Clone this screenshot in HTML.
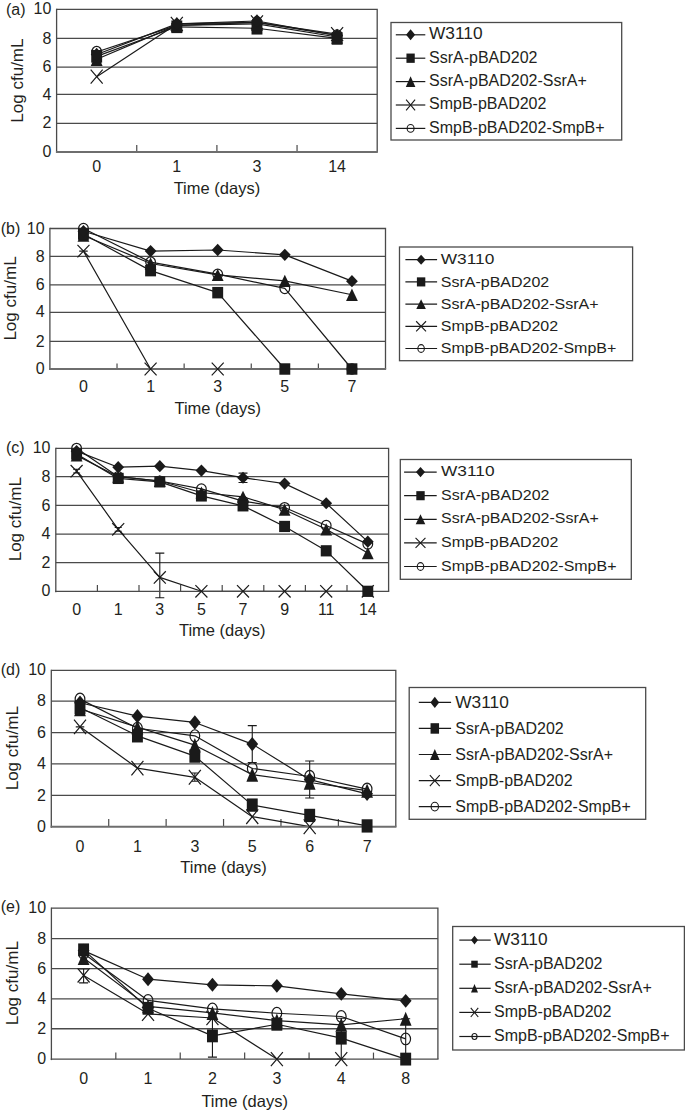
<!DOCTYPE html>
<html><head><meta charset="utf-8"><title>Figure</title>
<style>
html,body{margin:0;padding:0;background:#fff;}
body{width:685px;height:1112px;overflow:hidden;}
svg{display:block;}
text{font-family:"Liberation Sans", sans-serif;font-size:16px;fill:#231f20;}
</style></head>
<body>
<svg width="685" height="1112" viewBox="0 0 685 1112">
<rect width="685" height="1112" fill="#fff"/>
<g>
<line x1="56.6" y1="123.38" x2="377.2" y2="123.38" stroke="#4a4a4a" stroke-width="1.3"/>
<line x1="56.6" y1="94.43" x2="377.2" y2="94.43" stroke="#4a4a4a" stroke-width="1.3"/>
<line x1="56.6" y1="67.1" x2="377.2" y2="67.1" stroke="#4a4a4a" stroke-width="1.3"/>
<line x1="56.6" y1="38.42" x2="377.2" y2="38.42" stroke="#4a4a4a" stroke-width="1.3"/>
<path d="M56.6 9.35L377.2 9.35L377.2 151.9" stroke="#4a4a4a" stroke-width="1.3" fill="none"/>
<line x1="56.6" y1="8.7" x2="56.6" y2="152.9" stroke="#4a4a4a" stroke-width="1.3"/>
<line x1="136.75" y1="145.1" x2="136.75" y2="151.9" stroke="#4a4a4a" stroke-width="1.2"/>
<line x1="216.9" y1="145.1" x2="216.9" y2="151.9" stroke="#4a4a4a" stroke-width="1.2"/>
<line x1="297.05" y1="145.1" x2="297.05" y2="151.9" stroke="#4a4a4a" stroke-width="1.2"/>
<text x="51.3" y="157" text-anchor="end">0</text>
<text x="51.3" y="128.48" text-anchor="end">2</text>
<text x="51.3" y="99.53" text-anchor="end">4</text>
<text x="51.3" y="72.2" text-anchor="end">6</text>
<text x="51.3" y="43.52" text-anchor="end">8</text>
<text x="51.3" y="14.45" text-anchor="end">10</text>
<text x="96.67" y="171.5" text-anchor="middle">0</text>
<text x="176.82" y="171.5" text-anchor="middle">1</text>
<text x="256.97" y="171.5" text-anchor="middle">3</text>
<text x="337.12" y="171.5" text-anchor="middle">14</text>
<text x="216.9" y="194.4" text-anchor="middle" style="font-size:16.5px">Time (days)</text>
<text transform="translate(23 80.6) rotate(-90) scale(1.065 1)" text-anchor="middle">Log cfu/mL</text>
<text x="6" y="14.7">(a)</text>
<path d="M96.67 54.48L176.82 23.89L256.97 20.98L337.12 35.51" stroke="#1a1a1a" stroke-width="1.2" fill="none" stroke-linejoin="round"/>
<path d="M96.67 56.34L176.82 26.79L256.97 28.25L337.12 38.42" stroke="#1a1a1a" stroke-width="1.2" fill="none" stroke-linejoin="round"/>
<path d="M96.67 59.21L176.82 25.34L256.97 23.89L337.12 36.97" stroke="#1a1a1a" stroke-width="1.2" fill="none" stroke-linejoin="round"/>
<path d="M96.67 76.67L176.82 23.89L256.97 22.43L337.12 34.06" stroke="#1a1a1a" stroke-width="1.2" fill="none" stroke-linejoin="round"/>
<path d="M96.67 52.04L176.82 25.34L256.97 22.43L337.12 35.51" stroke="#1a1a1a" stroke-width="1.2" fill="none" stroke-linejoin="round"/>
<line x1="55.95" y1="151.9" x2="377.85" y2="151.9" stroke="#6e6e6e" stroke-width="2"/>
<ellipse cx="96.67" cy="52.04" rx="4.85" ry="5.72" fill="none" stroke="#1a1a1a" stroke-width="1.2"/>
<ellipse cx="176.82" cy="25.34" rx="4.85" ry="5.72" fill="none" stroke="#1a1a1a" stroke-width="1.2"/>
<ellipse cx="256.97" cy="22.43" rx="4.85" ry="5.72" fill="none" stroke="#1a1a1a" stroke-width="1.2"/>
<ellipse cx="337.12" cy="35.51" rx="4.85" ry="5.72" fill="none" stroke="#1a1a1a" stroke-width="1.2"/>
<path d="M90.67 69.71L102.67 83.63M102.67 69.71L90.67 83.63" stroke="#1a1a1a" stroke-width="1.2" fill="none"/>
<path d="M170.82 16.93L182.82 30.84M182.82 16.93L170.82 30.84" stroke="#1a1a1a" stroke-width="1.2" fill="none"/>
<path d="M250.97 15.47L262.97 29.39M262.97 15.47L250.97 29.39" stroke="#1a1a1a" stroke-width="1.2" fill="none"/>
<path d="M331.12 27.1L343.12 41.02M343.12 27.1L331.12 41.02" stroke="#1a1a1a" stroke-width="1.2" fill="none"/>
<path d="M96.67 52.37L102.58 66.06L90.77 66.06Z" fill="#1a1a1a"/>
<path d="M176.82 18.49L182.72 32.18L170.92 32.18Z" fill="#1a1a1a"/>
<path d="M256.97 17.04L262.87 30.73L251.07 30.73Z" fill="#1a1a1a"/>
<path d="M337.12 30.12L343.02 43.81L331.23 43.81Z" fill="#1a1a1a"/>
<rect x="91.22" y="50.02" width="10.9" height="12.64" fill="#1a1a1a"/>
<rect x="171.38" y="20.47" width="10.9" height="12.64" fill="#1a1a1a"/>
<rect x="251.52" y="21.92" width="10.9" height="12.64" fill="#1a1a1a"/>
<rect x="331.68" y="32.1" width="10.9" height="12.64" fill="#1a1a1a"/>
<path d="M96.67 47.64L102.58 54.48L96.67 61.32L90.77 54.48Z" fill="#1a1a1a"/>
<path d="M176.82 17.04L182.72 23.89L176.82 30.73L170.92 23.89Z" fill="#1a1a1a"/>
<path d="M256.97 14.13L262.87 20.98L256.97 27.82L251.07 20.98Z" fill="#1a1a1a"/>
<path d="M337.12 28.67L343.02 35.51L337.12 42.36L331.23 35.51Z" fill="#1a1a1a"/>
<rect x="391" y="22.5" width="230.7" height="117.5" fill="#fff" stroke="#4a4a4a" stroke-width="1.3"/>
<line x1="395.8" y1="34.8" x2="425.3" y2="34.8" stroke="#1a1a1a" stroke-width="1.2"/>
<path d="M410.6 29.35L415.15 34.8L410.6 40.25L406.05 34.8Z" fill="#1a1a1a"/>
<text transform="translate(429 39.2) scale(1 1)" textLength="53.5" lengthAdjust="spacingAndGlyphs">W3110</text>
<line x1="395.8" y1="58.2" x2="425.3" y2="58.2" stroke="#1a1a1a" stroke-width="1.2"/>
<rect x="406.45" y="53.55" width="8.3" height="9.3" fill="#1a1a1a"/>
<text transform="translate(429 62.6) scale(1 1)">SsrA-pBAD202</text>
<line x1="395.8" y1="81.6" x2="425.3" y2="81.6" stroke="#1a1a1a" stroke-width="1.2"/>
<path d="M410.6 76.15L415.4 87.05L405.8 87.05Z" fill="#1a1a1a"/>
<text transform="translate(429 86) scale(1 1)">SsrA-pBAD202-SsrA+</text>
<line x1="395.8" y1="105" x2="425.3" y2="105" stroke="#1a1a1a" stroke-width="1.2"/>
<path d="M406.1 99.55L415.1 110.45M415.1 99.55L406.1 110.45" stroke="#1a1a1a" stroke-width="1.1" fill="none"/>
<text transform="translate(429 109.4) scale(1 1)">SmpB-pBAD202</text>
<line x1="395.8" y1="128.4" x2="425.3" y2="128.4" stroke="#1a1a1a" stroke-width="1.2"/>
<ellipse cx="410.6" cy="128.4" rx="3.45" ry="3.85" fill="none" stroke="#1a1a1a" stroke-width="1.1"/>
<text transform="translate(429 132.8) scale(1 1)">SmpB-pBAD202-SmpB+</text>
</g>
<g>
<line x1="49.9" y1="341.4" x2="385.5" y2="341.4" stroke="#4a4a4a" stroke-width="1.3"/>
<line x1="49.9" y1="312.3" x2="385.5" y2="312.3" stroke="#4a4a4a" stroke-width="1.3"/>
<line x1="49.9" y1="284.85" x2="385.5" y2="284.85" stroke="#4a4a4a" stroke-width="1.3"/>
<line x1="49.9" y1="256.4" x2="385.5" y2="256.4" stroke="#4a4a4a" stroke-width="1.3"/>
<path d="M49.9 228.5L385.5 228.5L385.5 369" stroke="#4a4a4a" stroke-width="1.3" fill="none"/>
<line x1="49.9" y1="227.85" x2="49.9" y2="370" stroke="#4a4a4a" stroke-width="1.3"/>
<line x1="117.02" y1="363.4" x2="117.02" y2="369" stroke="#4a4a4a" stroke-width="1.2"/>
<line x1="184.14" y1="363.4" x2="184.14" y2="369" stroke="#4a4a4a" stroke-width="1.2"/>
<line x1="251.26" y1="363.4" x2="251.26" y2="369" stroke="#4a4a4a" stroke-width="1.2"/>
<line x1="318.38" y1="363.4" x2="318.38" y2="369" stroke="#4a4a4a" stroke-width="1.2"/>
<text x="44.6" y="374.1" text-anchor="end">0</text>
<text x="44.6" y="346.5" text-anchor="end">2</text>
<text x="44.6" y="317.4" text-anchor="end">4</text>
<text x="44.6" y="289.95" text-anchor="end">6</text>
<text x="44.6" y="261.5" text-anchor="end">8</text>
<text x="44.6" y="233.6" text-anchor="end">10</text>
<text x="83.46" y="391.5" text-anchor="middle">0</text>
<text x="150.58" y="391.5" text-anchor="middle">1</text>
<text x="217.7" y="391.5" text-anchor="middle">3</text>
<text x="284.82" y="391.5" text-anchor="middle">5</text>
<text x="351.94" y="391.5" text-anchor="middle">7</text>
<text x="217.7" y="413.9" text-anchor="middle" style="font-size:16.5px">Time (days)</text>
<text transform="translate(16.3 298.5) rotate(-90) scale(1.065 1)" text-anchor="middle">Log cfu/mL</text>
<text x="0.7" y="233.5">(b)</text>
<path d="M83.46 251.1L83.46 251.1M79.21 251.1L87.71 251.1M79.21 251.1L87.71 251.1" stroke="#1a1a1a" stroke-width="1.1" fill="none"/>
<path d="M83.46 231.29L150.58 251.1L217.7 249.98L284.82 254.87L351.94 281.15" stroke="#1a1a1a" stroke-width="1.2" fill="none" stroke-linejoin="round"/>
<path d="M83.46 234.08L150.58 270.62L217.7 292.67L284.82 369L351.94 369" stroke="#1a1a1a" stroke-width="1.2" fill="none" stroke-linejoin="round"/>
<path d="M83.46 235.47L150.58 263.51L217.7 274.89L284.82 280.87L351.94 294.73" stroke="#1a1a1a" stroke-width="1.2" fill="none" stroke-linejoin="round"/>
<path d="M83.46 251.1L150.58 369L217.7 369" stroke="#1a1a1a" stroke-width="1.2" fill="none" stroke-linejoin="round"/>
<path d="M83.46 228.5L150.58 262.09L217.7 274.18L284.82 288.42L351.94 369" stroke="#1a1a1a" stroke-width="1.2" fill="none" stroke-linejoin="round"/>
<line x1="49.25" y1="369" x2="386.15" y2="369" stroke="#6e6e6e" stroke-width="2"/>
<ellipse cx="83.46" cy="228.5" rx="4.85" ry="5.12" fill="none" stroke="#1a1a1a" stroke-width="1.2"/>
<ellipse cx="150.58" cy="262.09" rx="4.85" ry="5.12" fill="none" stroke="#1a1a1a" stroke-width="1.2"/>
<ellipse cx="217.7" cy="274.18" rx="4.85" ry="5.12" fill="none" stroke="#1a1a1a" stroke-width="1.2"/>
<ellipse cx="284.82" cy="288.42" rx="4.85" ry="5.12" fill="none" stroke="#1a1a1a" stroke-width="1.2"/>
<ellipse cx="351.94" cy="369" rx="4.85" ry="5.12" fill="none" stroke="#1a1a1a" stroke-width="1.2"/>
<path d="M77.46 244.8L89.46 257.4M89.46 244.8L77.46 257.4" stroke="#1a1a1a" stroke-width="1.2" fill="none"/>
<path d="M144.58 362.7L156.58 375.3M156.58 362.7L144.58 375.3" stroke="#1a1a1a" stroke-width="1.2" fill="none"/>
<path d="M211.7 362.7L223.7 375.3M223.7 362.7L211.7 375.3" stroke="#1a1a1a" stroke-width="1.2" fill="none"/>
<path d="M83.46 229.28L89.36 241.67L77.56 241.67Z" fill="#1a1a1a"/>
<path d="M150.58 257.32L156.48 269.71L144.68 269.71Z" fill="#1a1a1a"/>
<path d="M217.7 268.7L223.6 281.09L211.8 281.09Z" fill="#1a1a1a"/>
<path d="M284.82 274.67L290.72 287.06L278.92 287.06Z" fill="#1a1a1a"/>
<path d="M351.94 288.54L357.84 300.93L346.04 300.93Z" fill="#1a1a1a"/>
<rect x="78.01" y="228.36" width="10.9" height="11.45" fill="#1a1a1a"/>
<rect x="145.13" y="264.9" width="10.9" height="11.45" fill="#1a1a1a"/>
<rect x="212.25" y="286.95" width="10.9" height="11.45" fill="#1a1a1a"/>
<rect x="279.37" y="363.28" width="10.9" height="11.45" fill="#1a1a1a"/>
<rect x="346.49" y="363.28" width="10.9" height="11.45" fill="#1a1a1a"/>
<path d="M83.46 225.09L89.36 231.29L83.46 237.48L77.56 231.29Z" fill="#1a1a1a"/>
<path d="M150.58 244.9L156.48 251.1L150.58 257.29L144.68 251.1Z" fill="#1a1a1a"/>
<path d="M217.7 243.79L223.6 249.98L217.7 256.18L211.8 249.98Z" fill="#1a1a1a"/>
<path d="M284.82 248.67L290.72 254.87L284.82 261.06L278.92 254.87Z" fill="#1a1a1a"/>
<path d="M351.94 274.96L357.84 281.15L351.94 287.35L346.04 281.15Z" fill="#1a1a1a"/>
<rect x="399.5" y="247" width="233.1" height="113.7" fill="#fff" stroke="#4a4a4a" stroke-width="1.3"/>
<line x1="405.4" y1="259.7" x2="437.1" y2="259.7" stroke="#1a1a1a" stroke-width="1.2"/>
<path d="M421.1 254.65L425.65 259.7L421.1 264.75L416.55 259.7Z" fill="#1a1a1a"/>
<text transform="translate(440.8 264.3) scale(1 0.93)" textLength="53.5" lengthAdjust="spacingAndGlyphs">W3110</text>
<line x1="405.4" y1="281.9" x2="437.1" y2="281.9" stroke="#1a1a1a" stroke-width="1.2"/>
<rect x="416.9" y="277.35" width="8.4" height="9.1" fill="#1a1a1a"/>
<text transform="translate(440.8 286.5) scale(1 0.93)">SsrA-pBAD202</text>
<line x1="405.4" y1="304.1" x2="437.1" y2="304.1" stroke="#1a1a1a" stroke-width="1.2"/>
<path d="M421.1 299.15L425.9 309.05L416.3 309.05Z" fill="#1a1a1a"/>
<text transform="translate(440.8 308.7) scale(1 0.93)">SsrA-pBAD202-SsrA+</text>
<line x1="405.4" y1="326.3" x2="437.1" y2="326.3" stroke="#1a1a1a" stroke-width="1.2"/>
<path d="M416.15 321.25L426.05 331.35M426.05 321.25L416.15 331.35" stroke="#1a1a1a" stroke-width="1.1" fill="none"/>
<text transform="translate(440.8 330.9) scale(1 0.93)">SmpB-pBAD202</text>
<line x1="405.4" y1="348.5" x2="437.1" y2="348.5" stroke="#1a1a1a" stroke-width="1.2"/>
<ellipse cx="421.1" cy="348.5" rx="3.25" ry="3.9" fill="none" stroke="#1a1a1a" stroke-width="1.1"/>
<text transform="translate(440.8 353.1) scale(1 0.93)">SmpB-pBAD202-SmpB+</text>
</g>
<g>
<line x1="55.8" y1="562.7" x2="388.6" y2="562.7" stroke="#4a4a4a" stroke-width="1.3"/>
<line x1="55.8" y1="534.05" x2="388.6" y2="534.05" stroke="#4a4a4a" stroke-width="1.3"/>
<line x1="55.8" y1="505.4" x2="388.6" y2="505.4" stroke="#4a4a4a" stroke-width="1.3"/>
<line x1="55.8" y1="476.7" x2="388.6" y2="476.7" stroke="#4a4a4a" stroke-width="1.3"/>
<path d="M55.8 448.3L388.6 448.3L388.6 591.3" stroke="#4a4a4a" stroke-width="1.3" fill="none"/>
<line x1="55.8" y1="447.65" x2="55.8" y2="592.3" stroke="#4a4a4a" stroke-width="1.3"/>
<line x1="97.4" y1="585" x2="97.4" y2="591.3" stroke="#4a4a4a" stroke-width="1.2"/>
<line x1="139" y1="585" x2="139" y2="591.3" stroke="#4a4a4a" stroke-width="1.2"/>
<line x1="180.6" y1="585" x2="180.6" y2="591.3" stroke="#4a4a4a" stroke-width="1.2"/>
<line x1="222.2" y1="585" x2="222.2" y2="591.3" stroke="#4a4a4a" stroke-width="1.2"/>
<line x1="263.8" y1="585" x2="263.8" y2="591.3" stroke="#4a4a4a" stroke-width="1.2"/>
<line x1="305.4" y1="585" x2="305.4" y2="591.3" stroke="#4a4a4a" stroke-width="1.2"/>
<line x1="347" y1="585" x2="347" y2="591.3" stroke="#4a4a4a" stroke-width="1.2"/>
<text x="50.5" y="596.4" text-anchor="end">0</text>
<text x="50.5" y="567.8" text-anchor="end">2</text>
<text x="50.5" y="539.15" text-anchor="end">4</text>
<text x="50.5" y="510.5" text-anchor="end">6</text>
<text x="50.5" y="481.8" text-anchor="end">8</text>
<text x="50.5" y="453.4" text-anchor="end">10</text>
<text x="76.6" y="614.8" text-anchor="middle">0</text>
<text x="118.2" y="614.8" text-anchor="middle">1</text>
<text x="159.8" y="614.8" text-anchor="middle">3</text>
<text x="201.4" y="614.8" text-anchor="middle">5</text>
<text x="243" y="614.8" text-anchor="middle">7</text>
<text x="284.6" y="614.8" text-anchor="middle">9</text>
<text x="326.2" y="614.8" text-anchor="middle">11</text>
<text x="367.8" y="614.8" text-anchor="middle">14</text>
<text x="222.2" y="636.2" text-anchor="middle" style="font-size:16.5px">Time (days)</text>
<text transform="translate(21.3 519.2) rotate(-90) scale(1.065 1)" text-anchor="middle">Log cfu/mL</text>
<text x="5.9" y="453.4">(c)</text>
<path d="M159.8 553.1L159.8 597.73M155.3 553.1L164.3 553.1M155.3 597.73L164.3 597.73" stroke="#1a1a1a" stroke-width="1.1" fill="none"/>
<path d="M243 473.15L243 482.44M238.5 473.15L247.5 473.15M238.5 482.44L247.5 482.44" stroke="#1a1a1a" stroke-width="1.1" fill="none"/>
<path d="M76.6 469.32L76.6 473.01M73.1 469.32L80.1 469.32M73.1 473.01L80.1 473.01" stroke="#1a1a1a" stroke-width="1.1" fill="none"/>
<path d="M118.2 527.46L118.2 531.18M114.7 527.46L121.7 527.46M114.7 531.18L121.7 531.18" stroke="#1a1a1a" stroke-width="1.1" fill="none"/>
<path d="M76.6 451.14L118.2 467.19L159.8 466.19L201.4 470.59L243 477.7L284.6 483.59L326.2 503.25L367.8 541.64" stroke="#1a1a1a" stroke-width="1.2" fill="none" stroke-linejoin="round"/>
<path d="M76.6 453.98L118.2 478.42L159.8 481.87L201.4 495.93L243 505.83L284.6 526.46L326.2 550.81L367.8 591.3" stroke="#1a1a1a" stroke-width="1.2" fill="none" stroke-linejoin="round"/>
<path d="M76.6 455.4L118.2 476.7L159.8 481L201.4 492.48L243 496.79L284.6 509.7L326.2 529.32L367.8 553.1" stroke="#1a1a1a" stroke-width="1.2" fill="none" stroke-linejoin="round"/>
<path d="M76.6 471.16L118.2 529.32L159.8 577.43L201.4 591.3L243 591.3L284.6 591.3L326.2 591.3L367.8 591.3" stroke="#1a1a1a" stroke-width="1.2" fill="none" stroke-linejoin="round"/>
<path d="M76.6 448.3L118.2 476.7L159.8 481L201.4 488.9L243 501.09L284.6 507.55L326.2 525.45L367.8 544.08" stroke="#1a1a1a" stroke-width="1.2" fill="none" stroke-linejoin="round"/>
<line x1="55.15" y1="591.3" x2="389.25" y2="591.3" stroke="#4a4a4a" stroke-width="1.3"/>
<ellipse cx="76.6" cy="448.3" rx="4.85" ry="5.01" fill="none" stroke="#1a1a1a" stroke-width="1.2"/>
<ellipse cx="118.2" cy="476.7" rx="4.85" ry="5.01" fill="none" stroke="#1a1a1a" stroke-width="1.2"/>
<ellipse cx="159.8" cy="481" rx="4.85" ry="5.01" fill="none" stroke="#1a1a1a" stroke-width="1.2"/>
<ellipse cx="201.4" cy="488.9" rx="4.85" ry="5.01" fill="none" stroke="#1a1a1a" stroke-width="1.2"/>
<ellipse cx="243" cy="501.09" rx="4.85" ry="5.01" fill="none" stroke="#1a1a1a" stroke-width="1.2"/>
<ellipse cx="284.6" cy="507.55" rx="4.85" ry="5.01" fill="none" stroke="#1a1a1a" stroke-width="1.2"/>
<ellipse cx="326.2" cy="525.45" rx="4.85" ry="5.01" fill="none" stroke="#1a1a1a" stroke-width="1.2"/>
<ellipse cx="367.8" cy="544.08" rx="4.85" ry="5.01" fill="none" stroke="#1a1a1a" stroke-width="1.2"/>
<path d="M70.6 464.98L82.6 477.34M82.6 464.98L70.6 477.34" stroke="#1a1a1a" stroke-width="1.2" fill="none"/>
<path d="M112.2 523.14L124.2 535.5M124.2 523.14L112.2 535.5" stroke="#1a1a1a" stroke-width="1.2" fill="none"/>
<path d="M153.8 571.25L165.8 583.61M165.8 571.25L153.8 583.61" stroke="#1a1a1a" stroke-width="1.2" fill="none"/>
<path d="M195.4 585.12L207.4 597.48M207.4 585.12L195.4 597.48" stroke="#1a1a1a" stroke-width="1.2" fill="none"/>
<path d="M237 585.12L249 597.48M249 585.12L237 597.48" stroke="#1a1a1a" stroke-width="1.2" fill="none"/>
<path d="M278.6 585.12L290.6 597.48M290.6 585.12L278.6 597.48" stroke="#1a1a1a" stroke-width="1.2" fill="none"/>
<path d="M320.2 585.12L332.2 597.48M332.2 585.12L320.2 597.48" stroke="#1a1a1a" stroke-width="1.2" fill="none"/>
<path d="M361.8 585.12L373.8 597.48M373.8 585.12L361.8 597.48" stroke="#1a1a1a" stroke-width="1.2" fill="none"/>
<path d="M76.6 449.32L82.5 461.48L70.7 461.48Z" fill="#1a1a1a"/>
<path d="M118.2 470.62L124.1 482.78L112.3 482.78Z" fill="#1a1a1a"/>
<path d="M159.8 474.93L165.7 487.08L153.9 487.08Z" fill="#1a1a1a"/>
<path d="M201.4 486.41L207.3 498.56L195.5 498.56Z" fill="#1a1a1a"/>
<path d="M243 490.71L248.9 502.87L237.1 502.87Z" fill="#1a1a1a"/>
<path d="M284.6 503.62L290.5 515.77L278.7 515.77Z" fill="#1a1a1a"/>
<path d="M326.2 523.25L332.1 535.4L320.3 535.4Z" fill="#1a1a1a"/>
<path d="M367.8 547.03L373.7 559.18L361.9 559.18Z" fill="#1a1a1a"/>
<rect x="71.15" y="448.37" width="10.9" height="11.23" fill="#1a1a1a"/>
<rect x="112.75" y="472.81" width="10.9" height="11.23" fill="#1a1a1a"/>
<rect x="154.35" y="476.25" width="10.9" height="11.23" fill="#1a1a1a"/>
<rect x="195.95" y="490.32" width="10.9" height="11.23" fill="#1a1a1a"/>
<rect x="237.55" y="500.22" width="10.9" height="11.23" fill="#1a1a1a"/>
<rect x="279.15" y="520.84" width="10.9" height="11.23" fill="#1a1a1a"/>
<rect x="320.75" y="545.2" width="10.9" height="11.23" fill="#1a1a1a"/>
<rect x="362.35" y="585.69" width="10.9" height="11.23" fill="#1a1a1a"/>
<path d="M76.6 445.06L82.5 451.14L76.6 457.22L70.7 451.14Z" fill="#1a1a1a"/>
<path d="M118.2 461.11L124.1 467.19L118.2 473.26L112.3 467.19Z" fill="#1a1a1a"/>
<path d="M159.8 460.12L165.7 466.19L159.8 472.27L153.9 466.19Z" fill="#1a1a1a"/>
<path d="M201.4 464.52L207.3 470.59L201.4 476.67L195.5 470.59Z" fill="#1a1a1a"/>
<path d="M243 471.63L248.9 477.7L243 483.78L237.1 477.7Z" fill="#1a1a1a"/>
<path d="M284.6 477.51L290.5 483.59L284.6 489.66L278.7 483.59Z" fill="#1a1a1a"/>
<path d="M326.2 497.17L332.1 503.25L326.2 509.32L320.3 503.25Z" fill="#1a1a1a"/>
<path d="M367.8 535.57L373.7 541.64L367.8 547.72L361.9 541.64Z" fill="#1a1a1a"/>
<rect x="400.3" y="459.5" width="231" height="119.8" fill="#fff" stroke="#4a4a4a" stroke-width="1.3"/>
<line x1="404.1" y1="472.1" x2="436.7" y2="472.1" stroke="#1a1a1a" stroke-width="1.2"/>
<path d="M420.5 467.05L425.05 472.1L420.5 477.15L415.95 472.1Z" fill="#1a1a1a"/>
<text transform="translate(441 476.2) scale(1 0.97)" textLength="53.5" lengthAdjust="spacingAndGlyphs">W3110</text>
<line x1="404.1" y1="495.7" x2="436.7" y2="495.7" stroke="#1a1a1a" stroke-width="1.2"/>
<rect x="416.3" y="491.15" width="8.4" height="9.1" fill="#1a1a1a"/>
<text transform="translate(441 499.8) scale(1 0.97)">SsrA-pBAD202</text>
<line x1="404.1" y1="519.3" x2="436.7" y2="519.3" stroke="#1a1a1a" stroke-width="1.2"/>
<path d="M420.5 514.35L425.3 524.25L415.7 524.25Z" fill="#1a1a1a"/>
<text transform="translate(441 523.4) scale(1 0.97)">SsrA-pBAD202-SsrA+</text>
<line x1="404.1" y1="542.9" x2="436.7" y2="542.9" stroke="#1a1a1a" stroke-width="1.2"/>
<path d="M415.55 537.85L425.45 547.95M425.45 537.85L415.55 547.95" stroke="#1a1a1a" stroke-width="1.1" fill="none"/>
<text transform="translate(441 547) scale(1 0.97)">SmpB-pBAD202</text>
<line x1="404.1" y1="566.5" x2="436.7" y2="566.5" stroke="#1a1a1a" stroke-width="1.2"/>
<ellipse cx="420.5" cy="566.5" rx="3.25" ry="3.9" fill="none" stroke="#1a1a1a" stroke-width="1.1"/>
<text transform="translate(441 570.6) scale(1 0.97)">SmpB-pBAD202-SmpB+</text>
</g>
<g>
<line x1="51.3" y1="795.4" x2="395.8" y2="795.4" stroke="#4a4a4a" stroke-width="1.3"/>
<line x1="51.3" y1="763.9" x2="395.8" y2="763.9" stroke="#4a4a4a" stroke-width="1.3"/>
<line x1="51.3" y1="732.7" x2="395.8" y2="732.7" stroke="#4a4a4a" stroke-width="1.3"/>
<line x1="51.3" y1="701.15" x2="395.8" y2="701.15" stroke="#4a4a4a" stroke-width="1.3"/>
<path d="M51.3 670.3L395.8 670.3L395.8 826.7" stroke="#4a4a4a" stroke-width="1.3" fill="none"/>
<line x1="51.3" y1="669.65" x2="51.3" y2="827.7" stroke="#4a4a4a" stroke-width="1.3"/>
<line x1="108.72" y1="819" x2="108.72" y2="826.7" stroke="#4a4a4a" stroke-width="1.2"/>
<line x1="166.13" y1="819" x2="166.13" y2="826.7" stroke="#4a4a4a" stroke-width="1.2"/>
<line x1="223.55" y1="819" x2="223.55" y2="826.7" stroke="#4a4a4a" stroke-width="1.2"/>
<line x1="280.97" y1="819" x2="280.97" y2="826.7" stroke="#4a4a4a" stroke-width="1.2"/>
<line x1="338.38" y1="819" x2="338.38" y2="826.7" stroke="#4a4a4a" stroke-width="1.2"/>
<text x="46" y="831.8" text-anchor="end">0</text>
<text x="46" y="800.5" text-anchor="end">2</text>
<text x="46" y="769" text-anchor="end">4</text>
<text x="46" y="737.8" text-anchor="end">6</text>
<text x="46" y="706.25" text-anchor="end">8</text>
<text x="46" y="675.4" text-anchor="end">10</text>
<text x="80.01" y="852" text-anchor="middle">0</text>
<text x="137.43" y="852" text-anchor="middle">1</text>
<text x="194.84" y="852" text-anchor="middle">3</text>
<text x="252.26" y="852" text-anchor="middle">5</text>
<text x="309.68" y="852" text-anchor="middle">6</text>
<text x="367.09" y="852" text-anchor="middle">7</text>
<text x="223.55" y="873.2" text-anchor="middle" style="font-size:16.5px">Time (days)</text>
<text transform="translate(18.1 748.2) rotate(-90) scale(1.065 1)" text-anchor="middle">Log cfu/mL</text>
<text x="0.7" y="675.4">(d)</text>
<path d="M252.26 725.6L252.26 762.5M247.76 725.6L256.76 725.6M247.76 762.5L256.76 762.5" stroke="#1a1a1a" stroke-width="1.1" fill="none"/>
<path d="M309.68 760.94L309.68 798.06M305.18 760.94L314.18 760.94M305.18 798.06L314.18 798.06" stroke="#1a1a1a" stroke-width="1.1" fill="none"/>
<path d="M80.01 726.86L80.01 726.86M75.76 726.86L84.26 726.86M75.76 726.86L84.26 726.86" stroke="#1a1a1a" stroke-width="1.1" fill="none"/>
<path d="M194.84 773.03L194.84 781.23M191.84 773.03L197.84 773.03M191.84 781.23L197.84 781.23" stroke="#1a1a1a" stroke-width="1.1" fill="none"/>
<path d="M80.01 702.73L137.43 716.14L194.84 722.45L252.26 744.09L309.68 779.65L367.09 793.82" stroke="#1a1a1a" stroke-width="1.2" fill="none" stroke-linejoin="round"/>
<path d="M80.01 707.46L137.43 735.82L194.84 756.1L252.26 805.1L309.68 815.43L367.09 825.92" stroke="#1a1a1a" stroke-width="1.2" fill="none" stroke-linejoin="round"/>
<path d="M80.01 709.04L137.43 727.18L194.84 745.18L252.26 774.61L309.68 782.49L367.09 790.67" stroke="#1a1a1a" stroke-width="1.2" fill="none" stroke-linejoin="round"/>
<path d="M80.01 726.86L137.43 768.15L194.84 777.29L252.26 816.68L309.68 826.7" stroke="#1a1a1a" stroke-width="1.2" fill="none" stroke-linejoin="round"/>
<path d="M80.01 699.14L137.43 728.28L194.84 735.82L252.26 768.47L309.68 776.5L367.09 789.1" stroke="#1a1a1a" stroke-width="1.2" fill="none" stroke-linejoin="round"/>
<line x1="50.65" y1="826.7" x2="396.45" y2="826.7" stroke="#6e6e6e" stroke-width="2"/>
<ellipse cx="80.01" cy="699.14" rx="4.85" ry="6.05" fill="none" stroke="#1a1a1a" stroke-width="1.2"/>
<ellipse cx="137.43" cy="728.28" rx="4.85" ry="6.05" fill="none" stroke="#1a1a1a" stroke-width="1.2"/>
<ellipse cx="194.84" cy="735.82" rx="4.85" ry="6.05" fill="none" stroke="#1a1a1a" stroke-width="1.2"/>
<ellipse cx="252.26" cy="768.47" rx="4.85" ry="6.05" fill="none" stroke="#1a1a1a" stroke-width="1.2"/>
<ellipse cx="309.68" cy="776.5" rx="4.85" ry="6.05" fill="none" stroke="#1a1a1a" stroke-width="1.2"/>
<ellipse cx="367.09" cy="789.1" rx="4.85" ry="6.05" fill="none" stroke="#1a1a1a" stroke-width="1.2"/>
<path d="M74.01 719.54L86.01 734.18M86.01 719.54L74.01 734.18" stroke="#1a1a1a" stroke-width="1.2" fill="none"/>
<path d="M131.43 760.83L143.43 775.47M143.43 760.83L131.43 775.47" stroke="#1a1a1a" stroke-width="1.2" fill="none"/>
<path d="M188.84 769.97L200.84 784.61M200.84 769.97L188.84 784.61" stroke="#1a1a1a" stroke-width="1.2" fill="none"/>
<path d="M246.26 809.36L258.26 824M258.26 809.36L246.26 824" stroke="#1a1a1a" stroke-width="1.2" fill="none"/>
<path d="M303.68 819.38L315.68 834.02M315.68 819.38L303.68 834.02" stroke="#1a1a1a" stroke-width="1.2" fill="none"/>
<path d="M80.01 701.84L85.91 716.24L74.11 716.24Z" fill="#1a1a1a"/>
<path d="M137.43 719.98L143.33 734.38L131.53 734.38Z" fill="#1a1a1a"/>
<path d="M194.84 737.98L200.74 752.38L188.94 752.38Z" fill="#1a1a1a"/>
<path d="M252.26 767.41L258.16 781.81L246.36 781.81Z" fill="#1a1a1a"/>
<path d="M309.68 775.29L315.57 789.68L303.78 789.68Z" fill="#1a1a1a"/>
<path d="M367.09 783.48L372.99 797.87L361.19 797.87Z" fill="#1a1a1a"/>
<rect x="74.56" y="700.81" width="10.9" height="13.3" fill="#1a1a1a"/>
<rect x="131.98" y="729.17" width="10.9" height="13.3" fill="#1a1a1a"/>
<rect x="189.39" y="749.45" width="10.9" height="13.3" fill="#1a1a1a"/>
<rect x="246.81" y="798.45" width="10.9" height="13.3" fill="#1a1a1a"/>
<rect x="304.23" y="808.78" width="10.9" height="13.3" fill="#1a1a1a"/>
<rect x="361.64" y="819.27" width="10.9" height="13.3" fill="#1a1a1a"/>
<path d="M80.01 695.53L85.91 702.73L80.01 709.93L74.11 702.73Z" fill="#1a1a1a"/>
<path d="M137.43 708.94L143.33 716.14L137.43 723.33L131.53 716.14Z" fill="#1a1a1a"/>
<path d="M194.84 715.25L200.74 722.45L194.84 729.64L188.94 722.45Z" fill="#1a1a1a"/>
<path d="M252.26 736.89L258.16 744.09L252.26 751.29L246.36 744.09Z" fill="#1a1a1a"/>
<path d="M309.68 772.45L315.57 779.65L309.68 786.85L303.78 779.65Z" fill="#1a1a1a"/>
<path d="M367.09 786.63L372.99 793.82L367.09 801.02L361.19 793.82Z" fill="#1a1a1a"/>
<rect x="409.2" y="687.5" width="236.5" height="131.8" fill="#fff" stroke="#4a4a4a" stroke-width="1.3"/>
<line x1="418.8" y1="702.4" x2="451.1" y2="702.4" stroke="#1a1a1a" stroke-width="1.2"/>
<path d="M434.8 696.8L439.2 702.4L434.8 708L430.4 702.4Z" fill="#1a1a1a"/>
<text transform="translate(455.3 707.6) scale(1 0.98)" textLength="53.5" lengthAdjust="spacingAndGlyphs">W3110</text>
<line x1="418.8" y1="728.45" x2="451.1" y2="728.45" stroke="#1a1a1a" stroke-width="1.2"/>
<rect x="430.55" y="723.2" width="8.5" height="10.5" fill="#1a1a1a"/>
<text transform="translate(455.3 733.65) scale(1 0.98)">SsrA-pBAD202</text>
<line x1="418.8" y1="754.5" x2="451.1" y2="754.5" stroke="#1a1a1a" stroke-width="1.2"/>
<path d="M434.8 749L439.6 760L430 760Z" fill="#1a1a1a"/>
<text transform="translate(455.3 759.7) scale(1 0.98)">SsrA-pBAD202-SsrA+</text>
<line x1="418.8" y1="780.55" x2="451.1" y2="780.55" stroke="#1a1a1a" stroke-width="1.2"/>
<path d="M429.85 775.05L439.75 786.05M439.75 775.05L429.85 786.05" stroke="#1a1a1a" stroke-width="1.1" fill="none"/>
<text transform="translate(455.3 785.75) scale(1 0.98)">SmpB-pBAD202</text>
<line x1="418.8" y1="806.6" x2="451.1" y2="806.6" stroke="#1a1a1a" stroke-width="1.2"/>
<ellipse cx="434.8" cy="806.6" rx="3.7" ry="4.4" fill="none" stroke="#1a1a1a" stroke-width="1.1"/>
<text transform="translate(455.3 811.8) scale(1 0.98)">SmpB-pBAD202-SmpB+</text>
</g>
<g>
<line x1="51.4" y1="1028.75" x2="437.9" y2="1028.75" stroke="#4a4a4a" stroke-width="1.3"/>
<line x1="51.4" y1="998.9" x2="437.9" y2="998.9" stroke="#4a4a4a" stroke-width="1.3"/>
<line x1="51.4" y1="968.6" x2="437.9" y2="968.6" stroke="#4a4a4a" stroke-width="1.3"/>
<line x1="51.4" y1="938.6" x2="437.9" y2="938.6" stroke="#4a4a4a" stroke-width="1.3"/>
<path d="M51.4 908.2L437.9 908.2L437.9 1059.1" stroke="#4a4a4a" stroke-width="1.3" fill="none"/>
<line x1="51.4" y1="907.55" x2="51.4" y2="1060.1" stroke="#4a4a4a" stroke-width="1.3"/>
<line x1="115.82" y1="1052.6" x2="115.82" y2="1059.1" stroke="#4a4a4a" stroke-width="1.2"/>
<line x1="180.23" y1="1052.6" x2="180.23" y2="1059.1" stroke="#4a4a4a" stroke-width="1.2"/>
<line x1="244.65" y1="1052.6" x2="244.65" y2="1059.1" stroke="#4a4a4a" stroke-width="1.2"/>
<line x1="309.07" y1="1052.6" x2="309.07" y2="1059.1" stroke="#4a4a4a" stroke-width="1.2"/>
<line x1="373.48" y1="1052.6" x2="373.48" y2="1059.1" stroke="#4a4a4a" stroke-width="1.2"/>
<text x="46.1" y="1064.2" text-anchor="end">0</text>
<text x="46.1" y="1033.85" text-anchor="end">2</text>
<text x="46.1" y="1004" text-anchor="end">4</text>
<text x="46.1" y="973.7" text-anchor="end">6</text>
<text x="46.1" y="943.7" text-anchor="end">8</text>
<text x="46.1" y="913.3" text-anchor="end">10</text>
<text x="83.61" y="1084.3" text-anchor="middle">0</text>
<text x="148.03" y="1084.3" text-anchor="middle">1</text>
<text x="212.44" y="1084.3" text-anchor="middle">2</text>
<text x="276.86" y="1084.3" text-anchor="middle">3</text>
<text x="341.27" y="1084.3" text-anchor="middle">4</text>
<text x="405.69" y="1084.3" text-anchor="middle">8</text>
<text x="244.65" y="1106.7" text-anchor="middle" style="font-size:16.5px">Time (days)</text>
<text transform="translate(18.3 983.2) rotate(-90) scale(1.065 1)" text-anchor="middle">Log cfu/mL</text>
<text x="0.75" y="912">(e)</text>
<path d="M83.61 969.05L83.61 982.84M79.11 969.05L88.11 969.05M79.11 982.84L88.11 982.84" stroke="#1a1a1a" stroke-width="1.1" fill="none"/>
<path d="M212.44 1014.87L212.44 1057.13M207.94 1014.87L216.94 1014.87M207.94 1057.13L216.94 1057.13" stroke="#1a1a1a" stroke-width="1.1" fill="none"/>
<path d="M405.69 1018.75L405.69 1059.1M401.19 1018.75L410.19 1018.75M401.19 1059.1L410.19 1059.1" stroke="#1a1a1a" stroke-width="1.1" fill="none"/>
<path d="M341.27 1018.3L341.27 1059.1M336.77 1018.3L345.77 1018.3M336.77 1059.1L345.77 1059.1" stroke="#1a1a1a" stroke-width="1.1" fill="none"/>
<path d="M83.61 950.6L148.03 979.21L212.44 984.81L276.86 985.87L341.27 993.9L405.69 1000.84" stroke="#1a1a1a" stroke-width="1.2" fill="none" stroke-linejoin="round"/>
<path d="M83.61 949.85L148.03 1008.3L212.44 1035.88L276.86 1024.27L341.27 1038.16L405.69 1059.1" stroke="#1a1a1a" stroke-width="1.2" fill="none" stroke-linejoin="round"/>
<path d="M83.61 958.1L148.03 1006.36L212.44 1012.93L276.86 1020.54L341.27 1024.87L405.69 1018.75" stroke="#1a1a1a" stroke-width="1.2" fill="none" stroke-linejoin="round"/>
<path d="M83.61 975.42L148.03 1013.83L212.44 1018L276.86 1059.1L341.27 1059.1" stroke="#1a1a1a" stroke-width="1.2" fill="none" stroke-linejoin="round"/>
<path d="M83.61 953.6L148.03 1000.39L212.44 1008.9L276.86 1013.23L341.27 1016.51L405.69 1038.92" stroke="#1a1a1a" stroke-width="1.2" fill="none" stroke-linejoin="round"/>
<line x1="50.75" y1="1059.1" x2="438.55" y2="1059.1" stroke="#4a4a4a" stroke-width="1.3"/>
<ellipse cx="83.61" cy="953.6" rx="4.85" ry="5.83" fill="none" stroke="#1a1a1a" stroke-width="1.2"/>
<ellipse cx="148.03" cy="1000.39" rx="4.85" ry="5.83" fill="none" stroke="#1a1a1a" stroke-width="1.2"/>
<ellipse cx="212.44" cy="1008.9" rx="4.85" ry="5.83" fill="none" stroke="#1a1a1a" stroke-width="1.2"/>
<ellipse cx="276.86" cy="1013.23" rx="4.85" ry="5.83" fill="none" stroke="#1a1a1a" stroke-width="1.2"/>
<ellipse cx="341.27" cy="1016.51" rx="4.85" ry="5.83" fill="none" stroke="#1a1a1a" stroke-width="1.2"/>
<ellipse cx="405.69" cy="1038.92" rx="4.85" ry="5.83" fill="none" stroke="#1a1a1a" stroke-width="1.2"/>
<path d="M77.61 968.34L89.61 982.5M89.61 968.34L77.61 982.5" stroke="#1a1a1a" stroke-width="1.2" fill="none"/>
<path d="M142.03 1006.75L154.03 1020.91M154.03 1006.75L142.03 1020.91" stroke="#1a1a1a" stroke-width="1.2" fill="none"/>
<path d="M206.44 1010.92L218.44 1025.08M218.44 1010.92L206.44 1025.08" stroke="#1a1a1a" stroke-width="1.2" fill="none"/>
<path d="M270.86 1052.02L282.86 1066.18M282.86 1052.02L270.86 1066.18" stroke="#1a1a1a" stroke-width="1.2" fill="none"/>
<path d="M335.27 1052.02L347.27 1066.18M347.27 1052.02L335.27 1066.18" stroke="#1a1a1a" stroke-width="1.2" fill="none"/>
<path d="M83.61 951.14L89.51 965.06L77.71 965.06Z" fill="#1a1a1a"/>
<path d="M148.03 999.4L153.93 1013.32L142.12 1013.32Z" fill="#1a1a1a"/>
<path d="M212.44 1005.97L218.34 1019.89L206.54 1019.89Z" fill="#1a1a1a"/>
<path d="M276.86 1013.58L282.76 1027.5L270.96 1027.5Z" fill="#1a1a1a"/>
<path d="M341.27 1017.91L347.17 1031.83L335.38 1031.83Z" fill="#1a1a1a"/>
<path d="M405.69 1011.79L411.59 1025.71L399.79 1025.71Z" fill="#1a1a1a"/>
<rect x="78.16" y="943.42" width="10.9" height="12.86" fill="#1a1a1a"/>
<rect x="142.58" y="1001.87" width="10.9" height="12.86" fill="#1a1a1a"/>
<rect x="206.99" y="1029.45" width="10.9" height="12.86" fill="#1a1a1a"/>
<rect x="271.41" y="1017.84" width="10.9" height="12.86" fill="#1a1a1a"/>
<rect x="335.82" y="1031.73" width="10.9" height="12.86" fill="#1a1a1a"/>
<rect x="400.24" y="1052.67" width="10.9" height="12.86" fill="#1a1a1a"/>
<path d="M83.61 943.64L89.51 950.6L83.61 957.56L77.71 950.6Z" fill="#1a1a1a"/>
<path d="M148.03 972.24L153.93 979.21L148.03 986.17L142.12 979.21Z" fill="#1a1a1a"/>
<path d="M212.44 977.85L218.34 984.81L212.44 991.77L206.54 984.81Z" fill="#1a1a1a"/>
<path d="M276.86 978.91L282.76 985.87L276.86 992.83L270.96 985.87Z" fill="#1a1a1a"/>
<path d="M341.27 986.94L347.17 993.9L341.27 1000.86L335.38 993.9Z" fill="#1a1a1a"/>
<path d="M405.69 993.88L411.59 1000.84L405.69 1007.8L399.79 1000.84Z" fill="#1a1a1a"/>
<rect x="452.7" y="926.5" width="231.7" height="123.5" fill="#fff" stroke="#4a4a4a" stroke-width="1.3"/>
<line x1="459.3" y1="940.1" x2="490.7" y2="940.1" stroke="#1a1a1a" stroke-width="1.2"/>
<path d="M474.5 935.8L477.95 940.1L474.5 944.4L471.05 940.1Z" fill="#1a1a1a"/>
<text transform="translate(494 944.7) scale(1 1)" textLength="53.5" lengthAdjust="spacingAndGlyphs">W3110</text>
<line x1="459.3" y1="964.2" x2="490.7" y2="964.2" stroke="#1a1a1a" stroke-width="1.2"/>
<rect x="471.25" y="960.7" width="6.5" height="7" fill="#1a1a1a"/>
<text transform="translate(494 968.8) scale(1 1)">SsrA-pBAD202</text>
<line x1="459.3" y1="988.3" x2="490.7" y2="988.3" stroke="#1a1a1a" stroke-width="1.2"/>
<path d="M474.5 984L478 992.6L471 992.6Z" fill="#1a1a1a"/>
<text transform="translate(494 992.9) scale(1 1)">SsrA-pBAD202-SsrA+</text>
<line x1="459.3" y1="1012.4" x2="490.7" y2="1012.4" stroke="#1a1a1a" stroke-width="1.2"/>
<path d="M470.75 1007.8L478.25 1017M478.25 1007.8L470.75 1017" stroke="#1a1a1a" stroke-width="1.1" fill="none"/>
<text transform="translate(494 1017) scale(1 1)">SmpB-pBAD202</text>
<line x1="459.3" y1="1036.5" x2="490.7" y2="1036.5" stroke="#1a1a1a" stroke-width="1.2"/>
<ellipse cx="474.5" cy="1036.5" rx="2.55" ry="2.95" fill="none" stroke="#1a1a1a" stroke-width="1.1"/>
<text transform="translate(494 1041.1) scale(1 1)">SmpB-pBAD202-SmpB+</text>
</g>
</svg>
</body></html>
